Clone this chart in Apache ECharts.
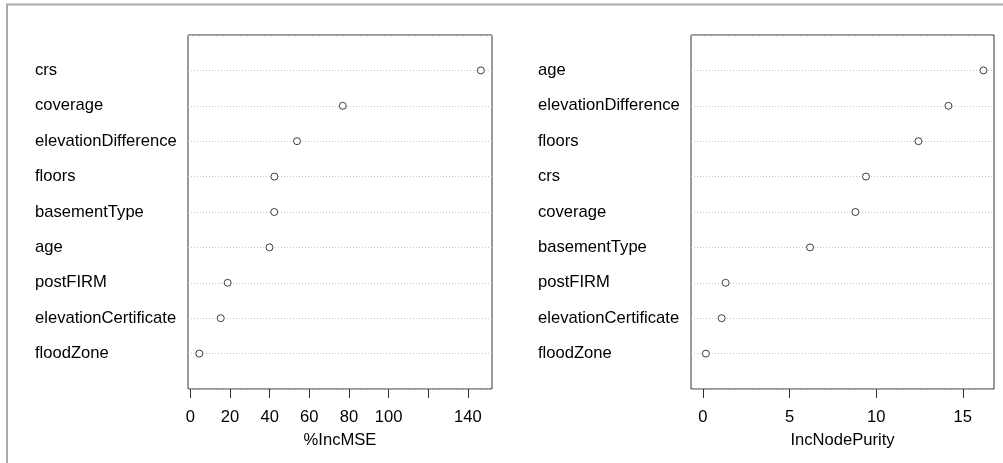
<!DOCTYPE html>
<html lang="en">
<head>
    <meta charset="UTF-8">
    <title>Variable importance</title>
    <script src="https://cdn.jsdelivr.net/npm/echarts@6/dist/echarts.min.js"></script>
    <style>
        html, body { margin: 0; padding: 0; background: #fff; }
        #chart { width: 1003px; height: 463px; }
    </style>
</head>
<body>
    <div id="chart"></div>
    <script>
    // left panel, top to bottom
    var mseNames = ['crs', 'coverage', 'elevationDifference', 'floors', 'basementType',
                    'age', 'postFIRM', 'elevationCertificate', 'floodZone'];
    var mseValues = [146.6, 76.9, 53.8, 42.4, 42.3, 39.9, 18.8, 15.3, 4.5];
    var mseTicks = [0, 20, 40, 60, 80, 100, 120, 140];
    var mseTickLabels = [0, 20, 40, 60, 80, 100, 140];

    // right panel, top to bottom
    var purityNames = ['age', 'elevationDifference', 'floors', 'crs', 'coverage',
                       'basementType', 'postFIRM', 'elevationCertificate', 'floodZone'];
    var purityValues = [16.19, 14.17, 12.44, 9.41, 8.80, 6.18, 1.31, 1.08, 0.17];
    var purityTicks = [0, 5, 10, 15];

    var font = 'Arial, "Liberation Sans", sans-serif';

    function rows(vals) {
        // top row sits at y = 9, bottom at y = 1
        return vals.map(function (v, i) { return [v, vals.length - i]; });
    }

    function yAxisFor(idx, names) {
        return {
            type: 'value', gridIndex: idx, min: 0, max: 10, interval: 1,
            axisLine: { show: false },
            axisTick: { show: false },
            axisLabel: {
                margin: 153, align: 'left', color: '#000', fontSize: 16.6, fontFamily: font,
                padding: [4, 0, 0, 0],
                formatter: function (v) {
                    return (v >= 1 && v <= 9) ? names[9 - v] : '';
                }
            },
            splitLine: { show: true, lineStyle: { color: '#c8c8c8', type: [1, 2], width: 1 } }
        };
    }

    function xAxisFor(idx, min, max, ticks, labels, name) {
        return {
            type: 'value', gridIndex: idx, min: min, max: max,
            name: name, nameLocation: 'middle', nameGap: 43,
            nameTextStyle: { color: '#000', fontSize: 16.6, fontFamily: font },
            axisLine: { show: false },
            axisTick: { show: true, length: 9, inside: false, customValues: ticks,
                        lineStyle: { color: '#333', width: 1 } },
            axisLabel: { customValues: labels, margin: 20, color: '#000', fontSize: 16.6, fontFamily: font },
            splitLine: { show: false }
        };
    }

    var chart = echarts.init(document.getElementById('chart'));

    var option = {
        animation: false,
        backgroundColor: '#fff',
        grid: [
            { left: 188, right: 511, top: 35, bottom: 74, show: true, borderColor: '#333', borderWidth: 1 },
            { left: 691, right: 9, top: 35, bottom: 74, show: true, borderColor: '#333', borderWidth: 1 }
        ],
        xAxis: [
            xAxisFor(0, -1.21, 152.2, mseTicks, mseTickLabels, '%IncMSE'),
            xAxisFor(1, -0.69, 16.8, purityTicks, purityTicks, 'IncNodePurity')
        ],
        yAxis: [
            yAxisFor(0, mseNames),
            yAxisFor(1, purityNames)
        ],
        series: [
            {
                type: 'scatter', xAxisIndex: 0, yAxisIndex: 0,
                data: rows(mseValues), symbol: 'circle', symbolSize: 7,
                itemStyle: { color: '#fff', borderColor: '#111', borderWidth: 1 }
            },
            {
                type: 'scatter', xAxisIndex: 1, yAxisIndex: 1,
                data: rows(purityValues), symbol: 'circle', symbolSize: 7,
                itemStyle: { color: '#fff', borderColor: '#111', borderWidth: 1 }
            }
        ],
        // thin gray frame on top and left, like the screenshot edge
        graphic: [
            { type: 'line', shape: { x1: 6, y1: 4.5, x2: 1003, y2: 4.5 }, style: { stroke: '#aaa', lineWidth: 2 } },
            { type: 'line', shape: { x1: 7, y1: 4, x2: 7, y2: 463 }, style: { stroke: '#aaa', lineWidth: 2 } }
        ]
    };

    chart.setOption(option);
    </script>
</body>
</html>
